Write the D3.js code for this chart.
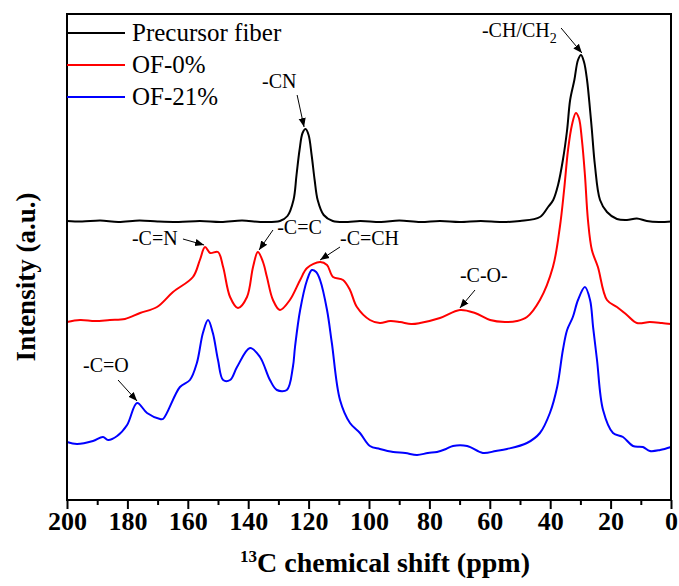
<!DOCTYPE html>
<html>
<head>
<meta charset="utf-8">
<script src="https://cdn.jsdelivr.net/npm/d3@7"></script>
<style>
  body { margin: 0; background: #fff; }
  svg text { font-family: "Liberation Serif", "Times New Roman", serif; }
</style>
</head>
<body>
<div id="chart"></div>
<script>
// [ppm, intensity a.u.]
let precursor = [
  [200,279],[195,278.5],[189,279.5],[183,278],[176,279.5],[170,278.5],[163,278],[156,279],[149,278],
  [142,279.5],[136,278],[129.5,279],[127,284],
  [125,300],[124,325],[123,350],[122,367],[121,371],[120,365],[119,345],[118,320],
  [117,300],[115,285],[112,279],[107,278],[103,279],[96,278],[90,279.5],[83,278],[76.5,279],
  [70,278],[63,279],[56,278],[50,279],
  [43.4,283],[40.7,293],[39,300],[37.4,315],[35.8,340],[34.4,370],[33.4,400],[32,420],
  [30.8,440],[29.8,445],[28.8,438],[27.8,420],[26.8,390],[26.2,370],[25.2,335],[23.5,300],
  [21.2,288],[17.9,281],[14.6,280],[11.3,281.5],[8,279],[4,278],[0,278.5]
];
let of0 = [
  [200,178],[195.7,180],[190.7,179],[185.8,180],[180.8,181],[175.8,187],[170.2,193],
  [164.9,208],[158.3,223],[156,240],[154.3,253],[152.6,247],[150,248],[148.3,233],
  [146,203],[143.4,192],[140.4,203],[138.4,233],[136.8,248],[135.1,238],[133.8,223],
  [131.8,200],[129.5,190],[126.2,200],[122.8,220],[120.5,232],[116.2,238],[113.9,235],
  [111.9,223],[108.6,220],[106.3,210],[104,193],[99.7,180],[96.4,177],[93,179],[89.7,178],
  [86,176],[83.1,177],[76.5,182],[69.9,190],[64.9,187],[59.9,180],[55,178],[51,179],[47.7,183],[43.4,200],
  [39.1,233],[36.8,273],[35.4,310],[34.1,350],[32.8,375],[31.5,387],[30.5,382],[29.5,360],
  [28.5,325],[27.5,280],[26.2,250],[24.2,233],[21.2,200],[17.9,193],[14.6,185],[11.3,177],
  [7,178],[3,177],[0,176]
];
let of21 = [
  [200,58],[196.7,56],[191.4,59],[188.1,63],[186.4,60],[183.4,64],[180.1,75],[176.8,97],
  [173.5,87],[169.2,81],[168.2,81],[162.6,113],[159.3,120],[157,137],[155,167],[153.3,180],
  [151.7,167],[150,140],[148.3,120],[146,120],[143.7,133],[139.4,152],[136.1,143],
  [132.8,120],[130.5,110],[127.2,110],[125.2,133],[124.5,153],[122.8,190],[120.5,220],
  [118.9,230],[117.5,228],[116.2,220],[113.9,190],[112.3,157],[109.6,100],[106.3,77],
  [103,67],[99.7,54],[96.4,51],[92,48],[88,47],[84.1,45],[80.5,47],[77.5,48],[74.5,51],[72.2,54],[67.5,54],[62.3,47],
  [58,49],[54.3,51],[47.7,57],[43.4,67],[40.1,87],[37.7,113],[35.8,150],[34.4,170],[32.5,183],
  [30.8,200],[28.5,213],[26.8,200],[25.8,173],[24.5,140],[22.5,90],[19.2,67],[15.9,63],
  [12.6,54],[9.3,53],[7,49],[3.6,50],[0,53]
];
let seriesNames = ["Precursor fiber", "OF-0%", "OF-21%"];
let seriesColors = ["#000000", "#ff0000", "#0000ff"];
let majorTicks = [200,180,160,140,120,100,80,60,40,20,0];
let minorTicks = [190,170,150,130,110,90,70,50,30,10];

// labels: text, text position [ppm, a.u.], arrow from, arrow to
let notes = [
  { text: "-CN", at: [135.4, 412], from: [123.8, 405], to: [121.5, 373] },
  { text: "-CH/CH", sub: "2", at: [62.6, 463], from: [36.4, 472], to: [29.5, 447] },
  { text: "-C=N", at: [178.5, 255], from: [161.6, 261], to: [154.6, 255] },
  { text: "-C=C", at: [130.4, 266], from: [131.8, 270], to: [136.4, 250] },
  { text: "-C=CH", at: [109.6, 255], from: [109.6, 253], to: [116.2, 240] },
  { text: "-C-O-", at: [69.9, 218], from: [64.9, 210], to: [69.9, 192] },
  { text: "-C=O", at: [194.7, 128], from: [183.1, 120], to: [176.8, 99] }
];

let width = 679, height = 586;
let m = { left: 67, right: 671, top: 14, bottom: 500 };

let svg = d3.select("#chart").append("svg")
  .attr("width", width)
  .attr("height", height);

let defs = svg.append("defs");
defs.append("marker")
  .attr("id", "head")
  .attr("viewBox", "0 0 10 10")
  .attr("refX", 10).attr("refY", 5)
  .attr("markerWidth", 9).attr("markerHeight", 9)
  .attr("markerUnits", "userSpaceOnUse")
  .attr("orient", "auto")
  .append("path")
  .attr("d", "M0,1 L10,5 L0,9 Z")
  .attr("fill", "#000");

let x = d3.scaleLinear().domain([200, 0]).range([m.left, m.right]);
let y = d3.scaleLinear().domain([0, 486]).range([m.bottom, m.top]);

let line = d3.line()
  .x(d => x(d[0]))
  .y(d => y(d[1]))
  .curve(d3.curveCatmullRom.alpha(0.5));

[precursor, of0, of21].forEach((s, i) => {
  svg.append("path")
    .datum(s)
    .attr("d", line)
    .attr("fill", "none")
    .attr("stroke", seriesColors[i])
    .attr("stroke-width", 2)
    .attr("stroke-linejoin", "round");
});

// axes
let axisMinor = svg.append("g")
  .attr("transform", "translate(0," + m.bottom + ")")
  .call(d3.axisBottom(x).tickValues(minorTicks).tickSize(5).tickFormat(""));
axisMinor.select(".domain").remove();
axisMinor.selectAll("line").attr("stroke-width", 2);

let axisMajor = svg.append("g")
  .attr("transform", "translate(0," + m.bottom + ")")
  .call(d3.axisBottom(x).tickValues(majorTicks).tickSize(9).tickPadding(3).tickFormat(d3.format("d")));
axisMajor.attr("font-family", null).attr("font-size", null);
axisMajor.select(".domain").remove();
axisMajor.selectAll("line").attr("stroke-width", 2);
axisMajor.selectAll("text")
  .attr("fill", "#000")
  .style("font-size", "26px")
  .style("font-weight", "bold");

svg.append("rect")
  .attr("x", m.left).attr("y", m.top)
  .attr("width", m.right - m.left).attr("height", m.bottom - m.top)
  .attr("fill", "none")
  .attr("stroke", "#000")
  .attr("stroke-width", 2);

// axis titles
let xt = svg.append("text")
  .attr("x", (m.left + m.right) / 2 + 16)
  .attr("y", 572)
  .attr("text-anchor", "middle")
  .style("font-size", "28px")
  .style("font-weight", "bold");
xt.append("tspan").attr("dy", -10).style("font-size", "17px").text("13");
xt.append("tspan").attr("dy", 10).text("C chemical shift (ppm)");

svg.append("text")
  .attr("transform", "translate(35,277) rotate(-90)")
  .attr("text-anchor", "middle")
  .style("font-size", "27px")
  .style("font-weight", "bold")
  .text("Intensity (a.u.)");

// legend
seriesNames.forEach((n, i) => {
  let ly = 33 + i * 32;
  svg.append("line")
    .attr("x1", m.left).attr("x2", 125)
    .attr("y1", ly).attr("y2", ly)
    .attr("stroke", seriesColors[i])
    .attr("stroke-width", 2);
  svg.append("text")
    .attr("x", 132).attr("y", ly + 8)
    .style("font-size", "25px")
    .text(n);
});

// peak labels
notes.forEach(d => {
  let t = svg.append("text")
    .attr("x", x(d.at[0])).attr("y", y(d.at[1]))
    .style("font-size", "20px")
    .text(d.text);
  if (d.sub) {
    t.append("tspan").attr("dy", 6).style("font-size", "14px").text(d.sub);
  }
  svg.append("line")
    .attr("x1", x(d.from[0])).attr("y1", y(d.from[1]))
    .attr("x2", x(d.to[0])).attr("y2", y(d.to[1]))
    .attr("stroke", "#000")
    .attr("stroke-width", 1)
    .attr("marker-end", "url(#head)");
});
</script>
</body>
</html>
